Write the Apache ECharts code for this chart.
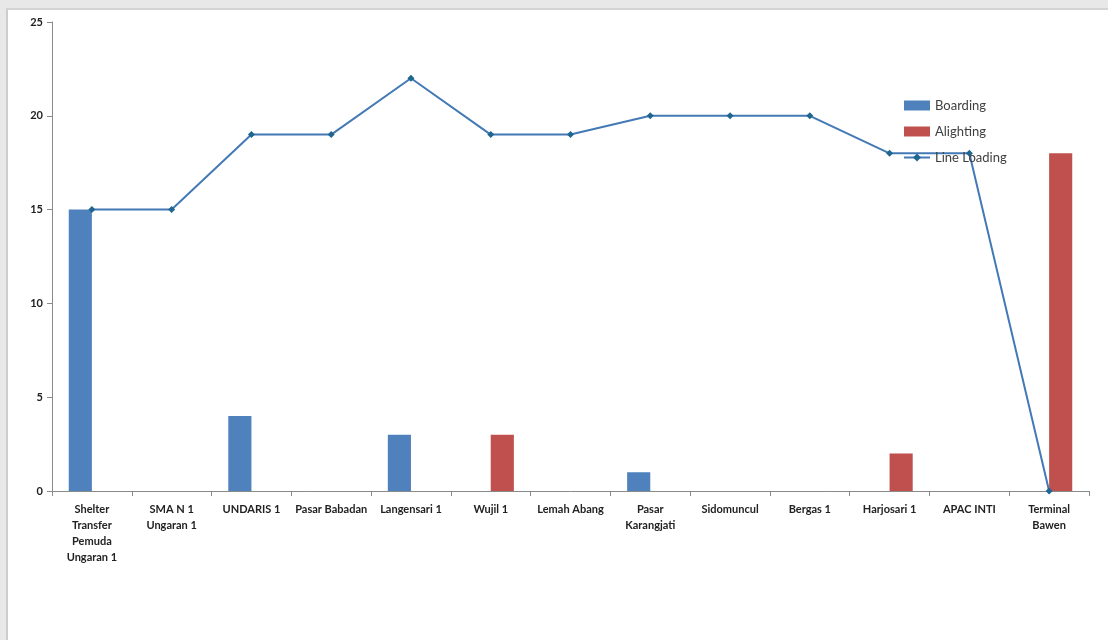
<!DOCTYPE html>
<html>
<head>
<meta charset="utf-8">
<script src="https://cdn.jsdelivr.net/npm/echarts@6/dist/echarts.min.js"></script>
<style>
  html, body { margin: 0; padding: 0; background: #e8e8e8; }
  #frame { position: absolute; left: 6px; top: 8px; width: 1102px; height: 632px;
           background: #fff; border-left: 2px solid #cdcdcd; border-top: 2px solid #d4d4d4; }
  #chart { position: absolute; left: 0; top: 0; width: 1108px; height: 640px; }
</style>
</head>
<body>
<div id="frame"></div>
<div id="chart"></div>
<script>
// halte (stops) along the corridor
const stops = [
  'Shelter\nTransfer\nPemuda\nUngaran 1', 'SMA N 1\nUngaran 1', 'UNDARIS 1', 'Pasar Babadan',
  'Langensari 1', 'Wujil 1', 'Lemah Abang', 'Pasar\nKarangjati', 'Sidomuncul',
  'Bergas 1', 'Harjosari 1', 'APAC INTI', 'Terminal\nBawen'
];
const boarding = [15, 0, 4, 0, 3, 0, 0, 1, 0, 0, 0, 0, 0];
const alighting = [0, 0, 0, 0, 0, 3, 0, 0, 0, 0, 2, 0, 18];
const lineLoading = [15, 15, 19, 19, 22, 19, 19, 20, 20, 20, 18, 18, 0];

const chart = echarts.init(document.getElementById('chart'));

const labelFont = 'Lato, "Open Sans", sans-serif';

chart.setOption({
  animation: false,
  grid: { left: 52, right: 19, top: 22, bottom: 149, containLabel: false },
  legend: {
    orient: 'vertical',
    left: 898, top: 94,
    itemWidth: 26, itemHeight: 10, itemGap: 13,
    textStyle: { fontFamily: labelFont, fontSize: 13, color: '#404040' },
    data: [
      { name: 'Boarding', icon: 'rect' },
      { name: 'Alighting', icon: 'rect' },
      { name: 'Line Loading' }
    ]
  },
  xAxis: {
    type: 'category',
    data: stops,
    axisLine: { lineStyle: { color: '#8a8a8a', width: 1 } },
    axisTick: { show: true, length: 5, lineStyle: { color: '#8a8a8a' } },
    axisLabel: {
      interval: 0, margin: 10, lineHeight: 16,
      fontFamily: labelFont, fontSize: 11, fontWeight: 'bold', color: '#222'
    }
  },
  yAxis: {
    type: 'value',
    min: 0, max: 25, interval: 5,
    splitLine: { show: false },
    axisLine: { show: true, lineStyle: { color: '#8a8a8a' } },
    axisTick: { show: true, length: 5, lineStyle: { color: '#8a8a8a' } },
    axisLabel: { margin: 9, fontFamily: labelFont, fontSize: 11, fontWeight: 'bold', color: '#222' }
  },
  series: [
    {
      name: 'Boarding', type: 'bar', data: boarding,
      barGap: '0%', barCategoryGap: '42%',
      itemStyle: { color: '#4F81BD' }
    },
    {
      name: 'Alighting', type: 'bar', data: alighting,
      itemStyle: { color: '#C0504D' }
    },
    {
      name: 'Line Loading', type: 'line', data: lineLoading,
      symbol: 'diamond', symbolSize: 7,
      lineStyle: { color: '#4379B4', width: 2 },
      itemStyle: { color: '#1F6691' }
    }
  ]
});
</script>
</body>
</html>
